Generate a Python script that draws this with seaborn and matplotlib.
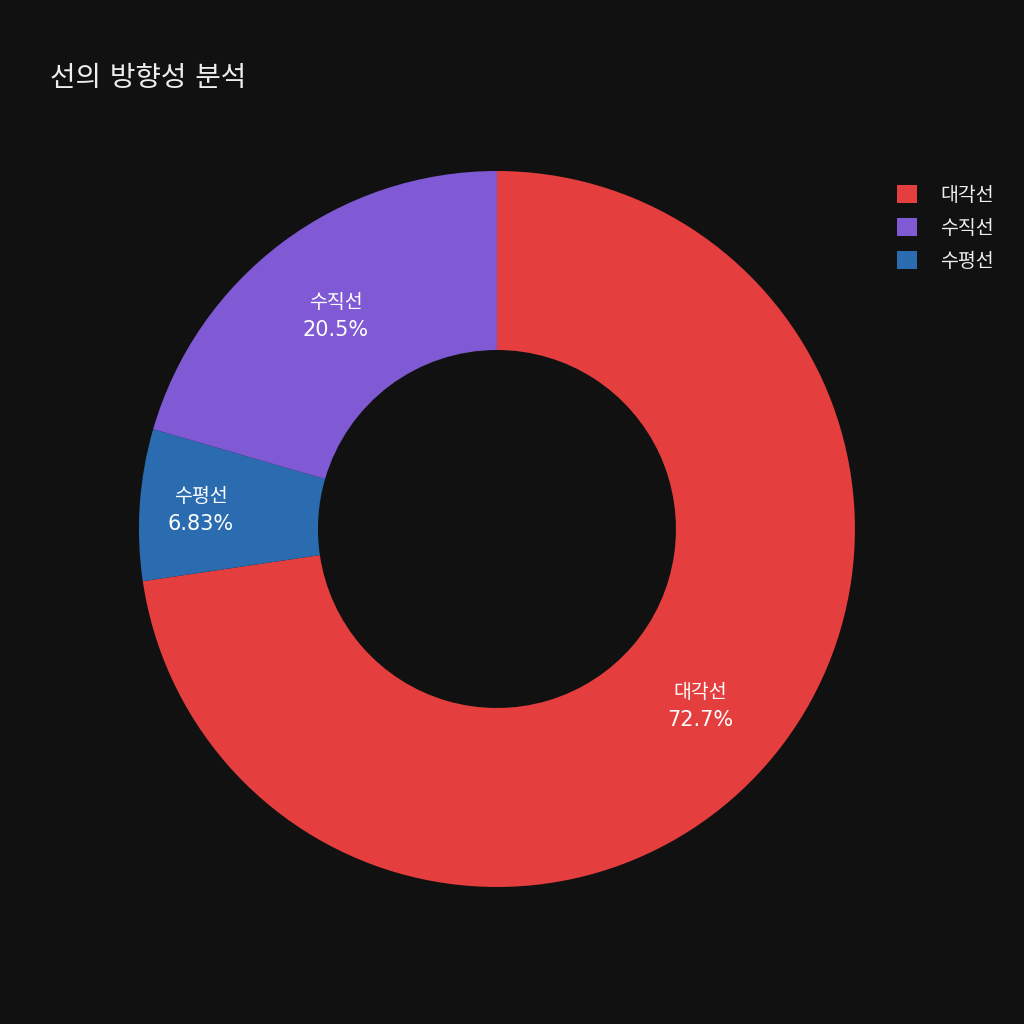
import numpy as np
import seaborn as sns
import matplotlib.pyplot as plt
from matplotlib.patches import Patch

# data
categories = ["대각선", "수평선", "수직선"]
values = [72.67, 6.83, 20.5]
colors = ["#E53E3E", "#2B6CB0", "#805AD5"]
legend_order = ["대각선", "수직선", "수평선"]

sns.set_style("dark")
plt.rcParams['font.family'] = ['DejaVu Sans', 'Noto Sans CJK KR']
bg = "#111111"

fig = plt.figure(figsize=(10.24, 10.24), dpi=100, facecolor=bg)
ax = fig.add_axes([0.1357, 0.1338, 0.6992, 0.6992])
ax.set_facecolor(bg)

wedges, _ = ax.pie(values, colors=colors, startangle=90, counterclock=False,
                   radius=1.0, wedgeprops=dict(width=0.5, linewidth=0))

total = sum(values)
for w, cat, v in zip(wedges, categories, values):
    pct = 100 * v / total
    txt = f"{pct:.3g}%"
    mid = np.deg2rad((w.theta1 + w.theta2) / 2)
    r = 0.75 if pct > 10 else 0.83
    x, y = r * np.cos(mid), r * np.sin(mid)
    ax.text(x, y + 0.033, cat, ha="center", va="center", color="white", fontsize=14)
    ax.text(x, y - 0.043, txt, ha="center", va="center", color="white", fontsize=15)

ax.set_xlim(-1, 1)
ax.set_ylim(-1, 1)
ax.set_aspect("equal")
ax.axis("off")

handles = [Patch(facecolor=colors[categories.index(c)], edgecolor="none") for c in legend_order]
leg = fig.legend(handles, legend_order, loc="upper left", bbox_to_anchor=(0.859, 0.836),
                 frameon=False, fontsize=14, labelcolor="#eeeeee",
                 handlelength=1.0, handleheight=1.0, handletextpad=1.2, labelspacing=0.7)

fig.text(0.049, 0.924, "선의 방향성 분석", color="#eeeeee", fontsize=20, ha="left", va="center")

plt.savefig("out.png", dpi=100, facecolor=bg)
